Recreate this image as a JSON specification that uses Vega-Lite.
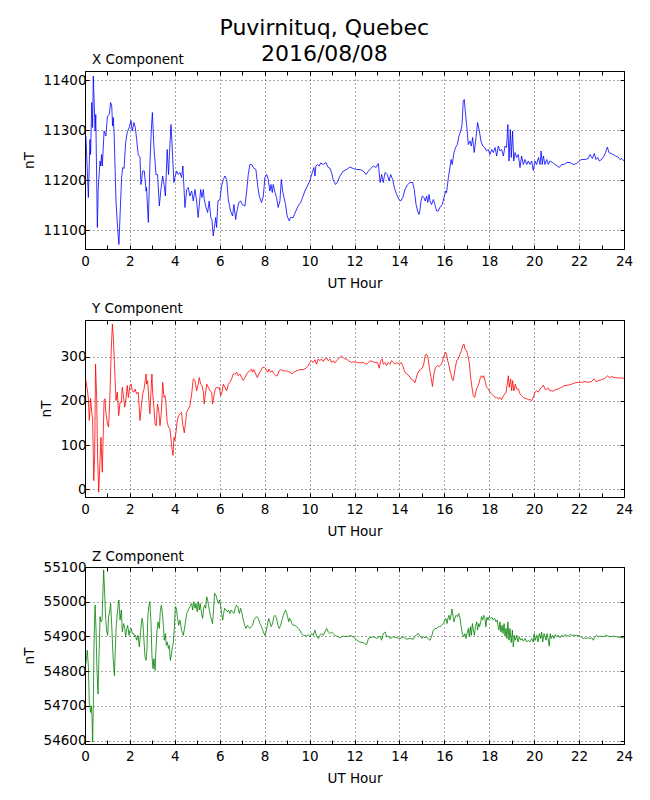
{
"$schema": "https://vega.github.io/schema/vega-lite/v6.json",
"padding": {"left": 21, "top": 16, "right": 10, "bottom": 5},
"spacing": 10,
"title": {"text": ["Puvirnituq, Quebec", "2016/08/08"], "fontSize": 22, "lineHeight": 26, "font": "DejaVu Sans", "fontWeight": "normal", "color": "black", "anchor": "middle", "offset": -13, "dx": -3},
"config": {
  "font": "DejaVu Sans",
  "view": {"stroke": "black", "strokeWidth": 1},
  "axis": {"domain": false, "labelFont": "DejaVu Sans", "labelFontSize": 13.5, "labelColor": "black", "titleFont": "DejaVu Sans", "titleFontSize": 13.5, "titleFontWeight": "normal", "titleColor": "black", "tickColor": "black", "tickSize": -4, "tickWidth": 1, "gridColor": "black", "gridDash": [1, 3], "gridWidth": 0.7, "labelPadding": 3, "labelFlush": false, "labelOverlap": false}
},
"datasets": {
"X": [{"h":0.04,"v":11288},{"h":0.15,"v":11165},{"h":0.22,"v":11281},{"h":0.25,"v":11251},{"h":0.30,"v":11355},{"h":0.34,"v":11305},{"h":0.37,"v":11408},{"h":0.45,"v":11298},{"h":0.48,"v":11331},{"h":0.55,"v":11105},{"h":0.59,"v":11185},{"h":0.67,"v":11238},{"h":0.70,"v":11228},{"h":0.74,"v":11251},{"h":0.77,"v":11228},{"h":0.85,"v":11298},{"h":0.93,"v":11288},{"h":1.00,"v":11328},{"h":1.08,"v":11331},{"h":1.14,"v":11355},{"h":1.19,"v":11348},{"h":1.23,"v":11308},{"h":1.26,"v":11325},{"h":1.30,"v":11288},{"h":1.38,"v":11158},{"h":1.45,"v":11105},{"h":1.51,"v":11071},{"h":1.56,"v":11128},{"h":1.63,"v":11205},{"h":1.68,"v":11225},{"h":1.74,"v":11223},{"h":1.81,"v":11275},{"h":1.88,"v":11295},{"h":1.97,"v":11305},{"h":2.05,"v":11319},{"h":2.10,"v":11298},{"h":2.18,"v":11315},{"h":2.24,"v":11305},{"h":2.30,"v":11281},{"h":2.37,"v":11251},{"h":2.45,"v":11245},{"h":2.49,"v":11191},{"h":2.57,"v":11218},{"h":2.64,"v":11218},{"h":2.72,"v":11178},{"h":2.74,"v":11185},{"h":2.82,"v":11115},{"h":2.89,"v":11231},{"h":2.95,"v":11298},{"h":3.00,"v":11335},{"h":3.07,"v":11265},{"h":3.16,"v":11211},{"h":3.23,"v":11211},{"h":3.31,"v":11148},{"h":3.38,"v":11181},{"h":3.46,"v":11208},{"h":3.52,"v":11191},{"h":3.58,"v":11168},{"h":3.66,"v":11261},{"h":3.72,"v":11211},{"h":3.78,"v":11271},{"h":3.83,"v":11311},{"h":3.89,"v":11258},{"h":3.96,"v":11195},{"h":4.00,"v":11205},{"h":4.08,"v":11218},{"h":4.15,"v":11211},{"h":4.23,"v":11215},{"h":4.30,"v":11205},{"h":4.36,"v":11228},{"h":4.45,"v":11145},{"h":4.53,"v":11181},{"h":4.60,"v":11185},{"h":4.67,"v":11168},{"h":4.75,"v":11178},{"h":4.82,"v":11158},{"h":4.90,"v":11181},{"h":4.97,"v":11158},{"h":5.04,"v":11125},{"h":5.15,"v":11181},{"h":5.21,"v":11165},{"h":5.27,"v":11181},{"h":5.31,"v":11161},{"h":5.39,"v":11145},{"h":5.46,"v":11135},{"h":5.53,"v":11158},{"h":5.60,"v":11125},{"h":5.65,"v":11121},{"h":5.71,"v":11088},{"h":5.76,"v":11105},{"h":5.82,"v":11125},{"h":5.86,"v":11105},{"h":5.92,"v":11158},{"h":6.01,"v":11161},{"h":6.08,"v":11188},{"h":6.16,"v":11201},{"h":6.23,"v":11208},{"h":6.31,"v":11201},{"h":6.38,"v":11161},{"h":6.48,"v":11138},{"h":6.57,"v":11128},{"h":6.63,"v":11151},{"h":6.71,"v":11121},{"h":6.75,"v":11135},{"h":6.85,"v":11155},{"h":6.93,"v":11158},{"h":7.00,"v":11151},{"h":7.12,"v":11148},{"h":7.20,"v":11178},{"h":7.27,"v":11211},{"h":7.34,"v":11231},{"h":7.42,"v":11231},{"h":7.49,"v":11225},{"h":7.61,"v":11221},{"h":7.69,"v":11188},{"h":7.76,"v":11168},{"h":7.86,"v":11155},{"h":7.94,"v":11168},{"h":8.01,"v":11205},{"h":8.09,"v":11211},{"h":8.16,"v":11201},{"h":8.23,"v":11178},{"h":8.28,"v":11191},{"h":8.34,"v":11175},{"h":8.38,"v":11191},{"h":8.46,"v":11175},{"h":8.53,"v":11165},{"h":8.60,"v":11145},{"h":8.68,"v":11158},{"h":8.74,"v":11201},{"h":8.80,"v":11178},{"h":8.86,"v":11165},{"h":8.93,"v":11151},{"h":9.00,"v":11128},{"h":9.10,"v":11118},{"h":9.15,"v":11125},{"h":9.27,"v":11125},{"h":9.39,"v":11138},{"h":9.49,"v":11148},{"h":9.60,"v":11155},{"h":9.69,"v":11165},{"h":9.79,"v":11178},{"h":9.90,"v":11188},{"h":10.01,"v":11198},{"h":10.12,"v":11215},{"h":10.19,"v":11225},{"h":10.24,"v":11208},{"h":10.28,"v":11228},{"h":10.34,"v":11231},{"h":10.43,"v":11228},{"h":10.49,"v":11234},{"h":10.61,"v":11231},{"h":10.73,"v":11235},{"h":10.83,"v":11225},{"h":10.90,"v":11224},{"h":10.98,"v":11215},{"h":11.05,"v":11201},{"h":11.16,"v":11191},{"h":11.23,"v":11195},{"h":11.35,"v":11208},{"h":11.50,"v":11218},{"h":11.65,"v":11221},{"h":11.80,"v":11226},{"h":11.94,"v":11223},{"h":12.10,"v":11221},{"h":12.24,"v":11221},{"h":12.39,"v":11218},{"h":12.51,"v":11211},{"h":12.62,"v":11218},{"h":12.72,"v":11223},{"h":12.84,"v":11228},{"h":12.96,"v":11225},{"h":13.06,"v":11233},{"h":13.14,"v":11195},{"h":13.21,"v":11211},{"h":13.28,"v":11195},{"h":13.36,"v":11215},{"h":13.46,"v":11211},{"h":13.54,"v":11198},{"h":13.61,"v":11211},{"h":13.70,"v":11201},{"h":13.77,"v":11185},{"h":13.88,"v":11171},{"h":13.98,"v":11161},{"h":14.06,"v":11158},{"h":14.15,"v":11165},{"h":14.25,"v":11181},{"h":14.35,"v":11190},{"h":14.47,"v":11195},{"h":14.59,"v":11195},{"h":14.66,"v":11181},{"h":14.74,"v":11151},{"h":14.81,"v":11138},{"h":14.87,"v":11131},{"h":14.91,"v":11138},{"h":14.96,"v":11158},{"h":15.02,"v":11168},{"h":15.09,"v":11165},{"h":15.15,"v":11158},{"h":15.21,"v":11168},{"h":15.26,"v":11155},{"h":15.32,"v":11171},{"h":15.36,"v":11158},{"h":15.43,"v":11151},{"h":15.51,"v":11161},{"h":15.58,"v":11151},{"h":15.66,"v":11138},{"h":15.73,"v":11138},{"h":15.80,"v":11145},{"h":15.91,"v":11151},{"h":16.00,"v":11168},{"h":16.06,"v":11178},{"h":16.10,"v":11175},{"h":16.18,"v":11205},{"h":16.25,"v":11225},{"h":16.30,"v":11241},{"h":16.35,"v":11231},{"h":16.43,"v":11255},{"h":16.50,"v":11265},{"h":16.58,"v":11271},{"h":16.65,"v":11288},{"h":16.73,"v":11298},{"h":16.79,"v":11311},{"h":16.84,"v":11358},{"h":16.89,"v":11361},{"h":16.93,"v":11338},{"h":16.99,"v":11311},{"h":17.07,"v":11271},{"h":17.14,"v":11278},{"h":17.20,"v":11268},{"h":17.26,"v":11285},{"h":17.33,"v":11255},{"h":17.41,"v":11285},{"h":17.48,"v":11315},{"h":17.56,"v":11298},{"h":17.63,"v":11278},{"h":17.71,"v":11268},{"h":17.79,"v":11265},{"h":17.88,"v":11258},{"h":17.96,"v":11261},{"h":18.03,"v":11251},{"h":18.11,"v":11261},{"h":18.18,"v":11255},{"h":18.26,"v":11265},{"h":18.33,"v":11248},{"h":18.40,"v":11268},{"h":18.48,"v":11258},{"h":18.55,"v":11261},{"h":18.63,"v":11248},{"h":18.70,"v":11268},{"h":18.77,"v":11265},{"h":18.83,"v":11311},{"h":18.88,"v":11238},{"h":18.94,"v":11301},{"h":18.98,"v":11245},{"h":19.04,"v":11298},{"h":19.09,"v":11238},{"h":19.15,"v":11255},{"h":19.22,"v":11245},{"h":19.29,"v":11251},{"h":19.37,"v":11225},{"h":19.44,"v":11248},{"h":19.52,"v":11231},{"h":19.59,"v":11241},{"h":19.67,"v":11231},{"h":19.74,"v":11238},{"h":19.81,"v":11231},{"h":19.89,"v":11238},{"h":19.96,"v":11219},{"h":20.04,"v":11238},{"h":20.11,"v":11231},{"h":20.19,"v":11245},{"h":20.26,"v":11231},{"h":20.31,"v":11258},{"h":20.36,"v":11231},{"h":20.41,"v":11248},{"h":20.48,"v":11231},{"h":20.56,"v":11241},{"h":20.63,"v":11231},{"h":20.70,"v":11238},{"h":20.82,"v":11235},{"h":20.93,"v":11231},{"h":21.03,"v":11228},{"h":21.12,"v":11225},{"h":21.22,"v":11231},{"h":21.33,"v":11231},{"h":21.45,"v":11235},{"h":21.60,"v":11235},{"h":21.74,"v":11231},{"h":21.89,"v":11233},{"h":22.01,"v":11238},{"h":22.11,"v":11241},{"h":22.26,"v":11241},{"h":22.41,"v":11243},{"h":22.49,"v":11251},{"h":22.59,"v":11243},{"h":22.68,"v":11253},{"h":22.75,"v":11241},{"h":22.83,"v":11245},{"h":22.90,"v":11238},{"h":23.00,"v":11241},{"h":23.11,"v":11248},{"h":23.18,"v":11255},{"h":23.26,"v":11266},{"h":23.33,"v":11255},{"h":23.42,"v":11253},{"h":23.52,"v":11251},{"h":23.63,"v":11248},{"h":23.75,"v":11245},{"h":23.82,"v":11241},{"h":23.90,"v":11243},{"h":24.0,"v":11238}],
"Y": [{"h":0.04,"v":246},{"h":0.10,"v":227},{"h":0.15,"v":205},{"h":0.19,"v":156},{"h":0.25,"v":206},{"h":0.30,"v":174},{"h":0.34,"v":159},{"h":0.39,"v":20},{"h":0.43,"v":77},{"h":0.47,"v":283},{"h":0.52,"v":205},{"h":0.56,"v":77},{"h":0.61,"v":-6},{"h":0.67,"v":65},{"h":0.71,"v":118},{"h":0.77,"v":39},{"h":0.85,"v":201},{"h":0.89,"v":205},{"h":0.93,"v":174},{"h":1.00,"v":148},{"h":1.05,"v":141},{"h":1.11,"v":212},{"h":1.17,"v":317},{"h":1.22,"v":374},{"h":1.26,"v":344},{"h":1.32,"v":272},{"h":1.38,"v":201},{"h":1.44,"v":220},{"h":1.50,"v":167},{"h":1.56,"v":197},{"h":1.62,"v":197},{"h":1.66,"v":231},{"h":1.71,"v":212},{"h":1.77,"v":186},{"h":1.83,"v":208},{"h":1.88,"v":235},{"h":1.93,"v":208},{"h":2.00,"v":235},{"h":2.06,"v":238},{"h":2.10,"v":223},{"h":2.18,"v":220},{"h":2.23,"v":227},{"h":2.30,"v":216},{"h":2.37,"v":220},{"h":2.45,"v":156},{"h":2.52,"v":193},{"h":2.57,"v":216},{"h":2.63,"v":227},{"h":2.67,"v":242},{"h":2.72,"v":261},{"h":2.74,"v":238},{"h":2.79,"v":246},{"h":2.85,"v":197},{"h":2.89,"v":171},{"h":2.94,"v":224},{"h":2.98,"v":261},{"h":3.01,"v":220},{"h":3.07,"v":186},{"h":3.12,"v":148},{"h":3.17,"v":144},{"h":3.23,"v":193},{"h":3.30,"v":171},{"h":3.34,"v":144},{"h":3.40,"v":174},{"h":3.46,"v":242},{"h":3.52,"v":208},{"h":3.56,"v":212},{"h":3.60,"v":197},{"h":3.66,"v":152},{"h":3.72,"v":141},{"h":3.78,"v":137},{"h":3.83,"v":114},{"h":3.87,"v":92},{"h":3.92,"v":77},{"h":3.96,"v":118},{"h":4.00,"v":111},{"h":4.05,"v":129},{"h":4.11,"v":156},{"h":4.17,"v":167},{"h":4.23,"v":171},{"h":4.30,"v":174},{"h":4.35,"v":148},{"h":4.42,"v":128},{"h":4.48,"v":152},{"h":4.52,"v":174},{"h":4.60,"v":182},{"h":4.67,"v":189},{"h":4.75,"v":216},{"h":4.82,"v":250},{"h":4.90,"v":246},{"h":4.97,"v":223},{"h":5.04,"v":238},{"h":5.09,"v":253},{"h":5.15,"v":238},{"h":5.21,"v":235},{"h":5.27,"v":220},{"h":5.31,"v":193},{"h":5.36,"v":216},{"h":5.42,"v":238},{"h":5.49,"v":231},{"h":5.56,"v":223},{"h":5.64,"v":220},{"h":5.68,"v":193},{"h":5.74,"v":212},{"h":5.80,"v":227},{"h":5.86,"v":231},{"h":5.93,"v":229},{"h":5.98,"v":231},{"h":6.04,"v":212},{"h":6.10,"v":220},{"h":6.16,"v":238},{"h":6.23,"v":231},{"h":6.31,"v":223},{"h":6.38,"v":238},{"h":6.45,"v":242},{"h":6.53,"v":250},{"h":6.60,"v":261},{"h":6.68,"v":261},{"h":6.75,"v":265},{"h":6.82,"v":257},{"h":6.90,"v":261},{"h":6.97,"v":253},{"h":7.05,"v":246},{"h":7.12,"v":253},{"h":7.20,"v":261},{"h":7.27,"v":266},{"h":7.34,"v":268},{"h":7.42,"v":272},{"h":7.46,"v":265},{"h":7.52,"v":271},{"h":7.60,"v":261},{"h":7.67,"v":253},{"h":7.74,"v":261},{"h":7.82,"v":268},{"h":7.91,"v":276},{"h":7.98,"v":276},{"h":8.06,"v":272},{"h":8.13,"v":265},{"h":8.19,"v":272},{"h":8.26,"v":265},{"h":8.34,"v":268},{"h":8.41,"v":262},{"h":8.50,"v":257},{"h":8.57,"v":257},{"h":8.64,"v":268},{"h":8.71,"v":271},{"h":8.83,"v":268},{"h":8.98,"v":268},{"h":9.12,"v":265},{"h":9.23,"v":261},{"h":9.32,"v":266},{"h":9.42,"v":268},{"h":9.57,"v":271},{"h":9.72,"v":271},{"h":9.84,"v":274},{"h":9.94,"v":280},{"h":10.01,"v":287},{"h":10.09,"v":291},{"h":10.16,"v":287},{"h":10.24,"v":293},{"h":10.31,"v":283},{"h":10.39,"v":295},{"h":10.46,"v":291},{"h":10.53,"v":295},{"h":10.61,"v":289},{"h":10.68,"v":295},{"h":10.76,"v":297},{"h":10.83,"v":291},{"h":10.91,"v":295},{"h":10.98,"v":287},{"h":11.05,"v":291},{"h":11.13,"v":286},{"h":11.20,"v":291},{"h":11.28,"v":295},{"h":11.35,"v":298},{"h":11.42,"v":302},{"h":11.50,"v":298},{"h":11.57,"v":295},{"h":11.65,"v":295},{"h":11.72,"v":291},{"h":11.80,"v":289},{"h":11.87,"v":287},{"h":11.94,"v":289},{"h":12.10,"v":287},{"h":12.24,"v":286},{"h":12.39,"v":287},{"h":12.54,"v":283},{"h":12.62,"v":287},{"h":12.69,"v":291},{"h":12.81,"v":289},{"h":12.91,"v":287},{"h":13.02,"v":287},{"h":13.10,"v":274},{"h":13.16,"v":291},{"h":13.24,"v":295},{"h":13.28,"v":283},{"h":13.36,"v":287},{"h":13.43,"v":280},{"h":13.50,"v":287},{"h":13.58,"v":283},{"h":13.65,"v":291},{"h":13.73,"v":287},{"h":13.80,"v":283},{"h":13.88,"v":287},{"h":14.00,"v":283},{"h":14.07,"v":287},{"h":14.15,"v":280},{"h":14.22,"v":268},{"h":14.32,"v":261},{"h":14.43,"v":257},{"h":14.51,"v":250},{"h":14.62,"v":246},{"h":14.69,"v":241},{"h":14.74,"v":250},{"h":14.80,"v":261},{"h":14.87,"v":268},{"h":14.95,"v":271},{"h":15.02,"v":274},{"h":15.10,"v":287},{"h":15.15,"v":304},{"h":15.21,"v":306},{"h":15.27,"v":298},{"h":15.33,"v":276},{"h":15.41,"v":253},{"h":15.47,"v":233},{"h":15.51,"v":250},{"h":15.55,"v":265},{"h":15.61,"v":276},{"h":15.69,"v":280},{"h":15.76,"v":278},{"h":15.84,"v":281},{"h":15.91,"v":287},{"h":15.98,"v":302},{"h":16.06,"v":310},{"h":16.10,"v":306},{"h":16.15,"v":291},{"h":16.21,"v":280},{"h":16.25,"v":268},{"h":16.30,"v":261},{"h":16.34,"v":250},{"h":16.39,"v":246},{"h":16.43,"v":257},{"h":16.49,"v":276},{"h":16.55,"v":291},{"h":16.62,"v":295},{"h":16.70,"v":306},{"h":16.76,"v":314},{"h":16.82,"v":325},{"h":16.87,"v":329},{"h":16.93,"v":316},{"h":16.99,"v":314},{"h":17.05,"v":302},{"h":17.11,"v":287},{"h":17.17,"v":253},{"h":17.23,"v":231},{"h":17.29,"v":212},{"h":17.35,"v":208},{"h":17.41,"v":223},{"h":17.47,"v":231},{"h":17.53,"v":238},{"h":17.59,"v":250},{"h":17.65,"v":257},{"h":17.71,"v":253},{"h":17.75,"v":257},{"h":17.81,"v":246},{"h":17.88,"v":231},{"h":17.96,"v":227},{"h":18.03,"v":220},{"h":18.11,"v":216},{"h":18.18,"v":212},{"h":18.26,"v":208},{"h":18.33,"v":208},{"h":18.40,"v":205},{"h":18.48,"v":208},{"h":18.55,"v":203},{"h":18.63,"v":212},{"h":18.70,"v":216},{"h":18.75,"v":220},{"h":18.81,"v":242},{"h":18.85,"v":257},{"h":18.89,"v":231},{"h":18.95,"v":250},{"h":19.00,"v":223},{"h":19.04,"v":246},{"h":19.10,"v":223},{"h":19.16,"v":238},{"h":19.22,"v":227},{"h":19.30,"v":227},{"h":19.37,"v":216},{"h":19.44,"v":212},{"h":19.52,"v":208},{"h":19.59,"v":206},{"h":19.67,"v":205},{"h":19.74,"v":203},{"h":19.81,"v":203},{"h":19.89,"v":201},{"h":19.96,"v":208},{"h":20.04,"v":220},{"h":20.11,"v":223},{"h":20.19,"v":220},{"h":20.26,"v":227},{"h":20.33,"v":231},{"h":20.41,"v":236},{"h":20.48,"v":227},{"h":20.56,"v":226},{"h":20.63,"v":229},{"h":20.70,"v":223},{"h":20.78,"v":223},{"h":20.85,"v":222},{"h":20.97,"v":226},{"h":21.07,"v":227},{"h":21.22,"v":231},{"h":21.37,"v":235},{"h":21.52,"v":236},{"h":21.67,"v":238},{"h":21.82,"v":241},{"h":21.97,"v":242},{"h":22.11,"v":242},{"h":22.26,"v":244},{"h":22.41,"v":242},{"h":22.56,"v":244},{"h":22.66,"v":250},{"h":22.75,"v":244},{"h":22.86,"v":246},{"h":23.00,"v":248},{"h":23.15,"v":251},{"h":23.26,"v":257},{"h":23.35,"v":253},{"h":23.45,"v":255},{"h":23.60,"v":253},{"h":23.75,"v":252},{"h":23.89,"v":252},{"h":24.00,"v":251}],
"Z": [{"h":0.04,"v":54821},{"h":0.10,"v":54860},{"h":0.15,"v":54816},{"h":0.19,"v":54710},{"h":0.25,"v":54681},{"h":0.28,"v":54700},{"h":0.31,"v":54671},{"h":0.34,"v":54596},{"h":0.37,"v":54700},{"h":0.40,"v":54874},{"h":0.45,"v":54990},{"h":0.49,"v":54923},{"h":0.53,"v":54807},{"h":0.58,"v":54734},{"h":0.62,"v":54836},{"h":0.67,"v":54957},{"h":0.71,"v":54942},{"h":0.76,"v":54947},{"h":0.79,"v":55010},{"h":0.83,"v":55092},{"h":0.88,"v":55019},{"h":0.92,"v":54952},{"h":0.96,"v":54918},{"h":1.01,"v":54903},{"h":1.05,"v":54957},{"h":1.10,"v":54971},{"h":1.14,"v":54995},{"h":1.19,"v":54932},{"h":1.25,"v":54841},{"h":1.31,"v":54787},{"h":1.35,"v":54865},{"h":1.39,"v":54928},{"h":1.45,"v":54976},{"h":1.51,"v":55005},{"h":1.56,"v":54947},{"h":1.62,"v":54976},{"h":1.66,"v":54913},{"h":1.72,"v":54937},{"h":1.77,"v":54923},{"h":1.81,"v":54899},{"h":1.85,"v":54918},{"h":1.90,"v":54932},{"h":1.96,"v":54903},{"h":2.00,"v":54918},{"h":2.06,"v":54923},{"h":2.11,"v":54908},{"h":2.17,"v":54908},{"h":2.21,"v":54899},{"h":2.25,"v":54903},{"h":2.30,"v":54889},{"h":2.36,"v":54903},{"h":2.42,"v":54870},{"h":2.48,"v":54918},{"h":2.54,"v":54952},{"h":2.58,"v":54937},{"h":2.63,"v":54884},{"h":2.67,"v":54841},{"h":2.72,"v":54831},{"h":2.76,"v":54865},{"h":2.80,"v":54961},{"h":2.85,"v":54990},{"h":2.89,"v":55000},{"h":2.94,"v":54937},{"h":2.98,"v":54845},{"h":3.03,"v":54807},{"h":3.07,"v":54836},{"h":3.12,"v":54802},{"h":3.16,"v":54860},{"h":3.20,"v":54913},{"h":3.25,"v":54942},{"h":3.31,"v":54923},{"h":3.35,"v":54971},{"h":3.40,"v":54990},{"h":3.44,"v":54971},{"h":3.49,"v":54932},{"h":3.53,"v":54889},{"h":3.58,"v":54908},{"h":3.62,"v":54874},{"h":3.67,"v":54884},{"h":3.71,"v":54865},{"h":3.75,"v":54874},{"h":3.80,"v":54831},{"h":3.84,"v":54845},{"h":3.89,"v":54870},{"h":3.93,"v":54879},{"h":3.98,"v":54928},{"h":4.02,"v":54986},{"h":4.07,"v":54981},{"h":4.11,"v":54957},{"h":4.17,"v":54932},{"h":4.23,"v":54947},{"h":4.30,"v":54918},{"h":4.38,"v":54903},{"h":4.45,"v":54932},{"h":4.53,"v":54966},{"h":4.60,"v":54976},{"h":4.67,"v":54986},{"h":4.75,"v":54995},{"h":4.79,"v":54976},{"h":4.84,"v":55000},{"h":4.90,"v":54981},{"h":4.94,"v":54995},{"h":5.00,"v":54971},{"h":5.04,"v":55000},{"h":5.09,"v":54976},{"h":5.13,"v":54995},{"h":5.19,"v":54966},{"h":5.24,"v":54952},{"h":5.28,"v":54981},{"h":5.33,"v":54990},{"h":5.37,"v":54981},{"h":5.42,"v":55014},{"h":5.46,"v":55005},{"h":5.51,"v":54986},{"h":5.55,"v":54971},{"h":5.59,"v":54957},{"h":5.64,"v":54947},{"h":5.68,"v":54937},{"h":5.73,"v":54981},{"h":5.77,"v":55024},{"h":5.83,"v":55019},{"h":5.89,"v":55005},{"h":5.95,"v":54995},{"h":5.99,"v":55005},{"h":6.04,"v":54990},{"h":6.08,"v":54966},{"h":6.13,"v":54947},{"h":6.17,"v":54966},{"h":6.22,"v":54981},{"h":6.28,"v":54976},{"h":6.34,"v":54971},{"h":6.39,"v":54976},{"h":6.45,"v":54966},{"h":6.51,"v":54976},{"h":6.57,"v":54971},{"h":6.63,"v":54966},{"h":6.69,"v":54981},{"h":6.75,"v":54990},{"h":6.81,"v":54986},{"h":6.87,"v":54966},{"h":6.93,"v":54981},{"h":6.99,"v":54966},{"h":7.05,"v":54947},{"h":7.11,"v":54932},{"h":7.17,"v":54923},{"h":7.23,"v":54932},{"h":7.28,"v":54928},{"h":7.34,"v":54923},{"h":7.40,"v":54928},{"h":7.46,"v":54932},{"h":7.52,"v":54947},{"h":7.58,"v":54952},{"h":7.64,"v":54957},{"h":7.72,"v":54952},{"h":7.79,"v":54937},{"h":7.86,"v":54928},{"h":7.94,"v":54913},{"h":8.01,"v":54903},{"h":8.06,"v":54913},{"h":8.12,"v":54932},{"h":8.18,"v":54952},{"h":8.23,"v":54942},{"h":8.29,"v":54928},{"h":8.35,"v":54937},{"h":8.41,"v":54957},{"h":8.47,"v":54961},{"h":8.53,"v":54952},{"h":8.59,"v":54932},{"h":8.65,"v":54923},{"h":8.71,"v":54932},{"h":8.77,"v":54947},{"h":8.83,"v":54961},{"h":8.89,"v":54971},{"h":8.93,"v":54976},{"h":8.98,"v":54966},{"h":9.02,"v":54957},{"h":9.07,"v":54942},{"h":9.11,"v":54952},{"h":9.16,"v":54947},{"h":9.21,"v":54937},{"h":9.27,"v":54932},{"h":9.34,"v":54932},{"h":9.42,"v":54928},{"h":9.49,"v":54923},{"h":9.57,"v":54918},{"h":9.64,"v":54908},{"h":9.72,"v":54903},{"h":9.79,"v":54903},{"h":9.87,"v":54901},{"h":9.94,"v":54905},{"h":10.01,"v":54899},{"h":10.09,"v":54908},{"h":10.16,"v":54903},{"h":10.24,"v":54918},{"h":10.31,"v":54901},{"h":10.39,"v":54894},{"h":10.46,"v":54903},{"h":10.53,"v":54908},{"h":10.61,"v":54903},{"h":10.68,"v":54913},{"h":10.76,"v":54923},{"h":10.83,"v":54913},{"h":10.91,"v":54908},{"h":10.98,"v":54913},{"h":11.05,"v":54908},{"h":11.13,"v":54903},{"h":11.20,"v":54901},{"h":11.28,"v":54899},{"h":11.35,"v":54896},{"h":11.42,"v":54899},{"h":11.50,"v":54901},{"h":11.57,"v":54899},{"h":11.65,"v":54901},{"h":11.72,"v":54899},{"h":11.80,"v":54903},{"h":11.87,"v":54901},{"h":11.95,"v":54899},{"h":12.10,"v":54889},{"h":12.24,"v":54884},{"h":12.39,"v":54882},{"h":12.54,"v":54876},{"h":12.62,"v":54894},{"h":12.69,"v":54896},{"h":12.84,"v":54899},{"h":12.99,"v":54894},{"h":13.14,"v":54901},{"h":13.21,"v":54889},{"h":13.28,"v":54908},{"h":13.36,"v":54913},{"h":13.43,"v":54899},{"h":13.51,"v":54901},{"h":13.58,"v":54894},{"h":13.73,"v":54899},{"h":13.88,"v":54896},{"h":14.03,"v":54894},{"h":14.17,"v":54899},{"h":14.32,"v":54892},{"h":14.47,"v":54894},{"h":14.62,"v":54892},{"h":14.69,"v":54901},{"h":14.77,"v":54905},{"h":14.84,"v":54908},{"h":14.92,"v":54901},{"h":14.99,"v":54894},{"h":15.06,"v":54899},{"h":15.14,"v":54896},{"h":15.21,"v":54899},{"h":15.29,"v":54892},{"h":15.36,"v":54889},{"h":15.43,"v":54899},{"h":15.51,"v":54918},{"h":15.58,"v":54923},{"h":15.66,"v":54923},{"h":15.73,"v":54928},{"h":15.80,"v":54928},{"h":15.88,"v":54932},{"h":15.95,"v":54937},{"h":16.03,"v":54947},{"h":16.07,"v":54952},{"h":16.12,"v":54937},{"h":16.16,"v":54952},{"h":16.21,"v":54961},{"h":16.25,"v":54947},{"h":16.30,"v":54961},{"h":16.34,"v":54979},{"h":16.39,"v":54957},{"h":16.43,"v":54942},{"h":16.47,"v":54952},{"h":16.52,"v":54961},{"h":16.58,"v":54957},{"h":16.64,"v":54966},{"h":16.70,"v":54952},{"h":16.74,"v":54932},{"h":16.80,"v":54908},{"h":16.86,"v":54899},{"h":16.92,"v":54908},{"h":16.96,"v":54894},{"h":17.01,"v":54908},{"h":17.07,"v":54923},{"h":17.11,"v":54899},{"h":17.16,"v":54928},{"h":17.20,"v":54903},{"h":17.25,"v":54937},{"h":17.29,"v":54918},{"h":17.34,"v":54903},{"h":17.38,"v":54928},{"h":17.44,"v":54942},{"h":17.48,"v":54918},{"h":17.53,"v":54937},{"h":17.57,"v":54928},{"h":17.62,"v":54942},{"h":17.66,"v":54957},{"h":17.71,"v":54947},{"h":17.75,"v":54961},{"h":17.81,"v":54952},{"h":17.85,"v":54928},{"h":17.90,"v":54955},{"h":17.94,"v":54947},{"h":18.00,"v":54957},{"h":18.06,"v":54952},{"h":18.12,"v":54955},{"h":18.18,"v":54947},{"h":18.24,"v":54952},{"h":18.30,"v":54942},{"h":18.35,"v":54947},{"h":18.39,"v":54932},{"h":18.43,"v":54918},{"h":18.48,"v":54942},{"h":18.52,"v":54913},{"h":18.57,"v":54932},{"h":18.61,"v":54908},{"h":18.66,"v":54937},{"h":18.70,"v":54901},{"h":18.75,"v":54923},{"h":18.79,"v":54894},{"h":18.83,"v":54942},{"h":18.88,"v":54889},{"h":18.92,"v":54923},{"h":18.98,"v":54882},{"h":19.03,"v":54918},{"h":19.07,"v":54870},{"h":19.12,"v":54903},{"h":19.16,"v":54889},{"h":19.22,"v":54903},{"h":19.28,"v":54884},{"h":19.34,"v":54899},{"h":19.40,"v":54889},{"h":19.46,"v":54894},{"h":19.52,"v":54886},{"h":19.59,"v":54894},{"h":19.67,"v":54884},{"h":19.74,"v":54889},{"h":19.81,"v":54884},{"h":19.89,"v":54894},{"h":19.96,"v":54884},{"h":20.00,"v":54908},{"h":20.05,"v":54889},{"h":20.11,"v":54903},{"h":20.17,"v":54884},{"h":20.23,"v":54908},{"h":20.29,"v":54894},{"h":20.33,"v":54913},{"h":20.38,"v":54884},{"h":20.44,"v":54908},{"h":20.48,"v":54899},{"h":20.53,"v":54889},{"h":20.57,"v":54908},{"h":20.62,"v":54894},{"h":20.67,"v":54872},{"h":20.72,"v":54908},{"h":20.76,"v":54894},{"h":20.82,"v":54903},{"h":20.88,"v":54894},{"h":20.94,"v":54905},{"h":21.00,"v":54899},{"h":21.07,"v":54903},{"h":21.15,"v":54896},{"h":21.22,"v":54903},{"h":21.30,"v":54899},{"h":21.37,"v":54905},{"h":21.45,"v":54903},{"h":21.52,"v":54901},{"h":21.60,"v":54905},{"h":21.74,"v":54903},{"h":21.89,"v":54903},{"h":22.04,"v":54901},{"h":22.11,"v":54896},{"h":22.19,"v":54894},{"h":22.26,"v":54896},{"h":22.34,"v":54894},{"h":22.41,"v":54896},{"h":22.49,"v":54894},{"h":22.56,"v":54896},{"h":22.63,"v":54889},{"h":22.71,"v":54899},{"h":22.78,"v":54903},{"h":22.86,"v":54899},{"h":22.93,"v":54901},{"h":23.08,"v":54899},{"h":23.22,"v":54903},{"h":23.37,"v":54899},{"h":23.52,"v":54901},{"h":23.66,"v":54899},{"h":23.82,"v":54897},{"h":23.97,"v":54896},{"h":24.00,"v":54896}]
},
"vconcat": [
{
 "width": 539, "height": 178,
 "title": {"text": "X Component", "anchor": "start", "frame": "group", "dx": 7, "fontSize": 13.5, "fontWeight": "normal", "font": "DejaVu Sans", "color": "black", "offset": -7, "baseline": "alphabetic"},
 "data": {"name": "X"},
 "layer": [
  {"mark": {"type": "line", "color": "#0000ff", "strokeWidth": 0.8, "clip": true},
   "encoding": {
    "x": {"field": "h", "type": "quantitative", "scale": {"domain": [0, 24], "nice": false}, "axis": {"orient": "bottom", "title": "UT Hour", "titlePadding": 9, "labelPadding": 9, "labelFont": "DejaVu Sans", "labelFontSize": 13.5, "values": [0,1,2,3,4,5,6,7,8,9,10,11,12,13,14,15,16,17,18,19,20,21,22,23,24], "labelExpr": "datum.value % 2 == 0 ? datum.label : ''", "gridOpacity": {"condition": {"test": "datum.value % 2 == 0", "value": 1}, "value": 0}}},
    "y": {"field": "v", "type": "quantitative", "scale": {"domain": [11062, 11418], "nice": false, "zero": false}, "axis": {"orient": "left", "title": "nT", "titlePadding": 7, "labelFont": "DejaVu Sans", "labelFontSize": 13.5, "format": "d", "values": [11100, 11200, 11300, 11400]}}}},
  {"mark": {"type": "line", "opacity": 0},
   "encoding": {
    "x": {"field": "h", "type": "quantitative", "axis": {"orient": "top", "title": null, "labels": false, "grid": false, "minExtent": 0, "maxExtent": 0, "values": [0,1,2,3,4,5,6,7,8,9,10,11,12,13,14,15,16,17,18,19,20,21,22,23,24]}},
    "y": {"field": "v", "type": "quantitative", "axis": {"orient": "right", "title": null, "labels": false, "grid": false, "minExtent": 0, "maxExtent": 0, "values": [11100, 11200, 11300, 11400]}}}}
 ],
 "resolve": {"axis": {"x": "independent", "y": "independent"}}
},
{
 "width": 539, "height": 177,
 "title": {"text": "Y Component", "anchor": "start", "frame": "group", "dx": 7, "fontSize": 13.5, "fontWeight": "normal", "font": "DejaVu Sans", "color": "black", "offset": -7, "baseline": "alphabetic"},
 "data": {"name": "Y"},
 "layer": [
  {"mark": {"type": "line", "color": "#ff0000", "strokeWidth": 0.8, "clip": true},
   "encoding": {
    "x": {"field": "h", "type": "quantitative", "scale": {"domain": [0, 24], "nice": false}, "axis": {"orient": "bottom", "title": "UT Hour", "titlePadding": 9, "labelPadding": 9, "labelFont": "DejaVu Sans", "labelFontSize": 13.5, "values": [0,1,2,3,4,5,6,7,8,9,10,11,12,13,14,15,16,17,18,19,20,21,22,23,24], "labelExpr": "datum.value % 2 == 0 ? datum.label : ''", "gridOpacity": {"condition": {"test": "datum.value % 2 == 0", "value": 1}, "value": 0}}},
    "y": {"field": "v", "type": "quantitative", "scale": {"domain": [-17, 383], "nice": false, "zero": false}, "axis": {"orient": "left", "title": "nT", "titlePadding": 7, "labelFont": "DejaVu Sans", "labelFontSize": 13.5, "format": "d", "values": [0, 100, 200, 300]}}}},
  {"mark": {"type": "line", "opacity": 0},
   "encoding": {
    "x": {"field": "h", "type": "quantitative", "axis": {"orient": "top", "title": null, "labels": false, "grid": false, "minExtent": 0, "maxExtent": 0, "values": [0,1,2,3,4,5,6,7,8,9,10,11,12,13,14,15,16,17,18,19,20,21,22,23,24]}},
    "y": {"field": "v", "type": "quantitative", "axis": {"orient": "right", "title": null, "labels": false, "grid": false, "minExtent": 0, "maxExtent": 0, "values": [0, 100, 200, 300]}}}}
 ],
 "resolve": {"axis": {"x": "independent", "y": "independent"}}
},
{
 "width": 539, "height": 177,
 "title": {"text": "Z Component", "anchor": "start", "frame": "group", "dx": 7, "fontSize": 13.5, "fontWeight": "normal", "font": "DejaVu Sans", "color": "black", "offset": -14, "baseline": "alphabetic"},
 "data": {"name": "Z"},
 "layer": [
  {"mark": {"type": "line", "color": "#008000", "strokeWidth": 0.8, "clip": true},
   "encoding": {
    "x": {"field": "h", "type": "quantitative", "scale": {"domain": [0, 24], "nice": false}, "axis": {"orient": "bottom", "title": "UT Hour", "titlePadding": 9, "labelPadding": 9, "labelFont": "DejaVu Sans", "labelFontSize": 13.5, "values": [0,1,2,3,4,5,6,7,8,9,10,11,12,13,14,15,16,17,18,19,20,21,22,23,24], "labelExpr": "datum.value % 2 == 0 ? datum.label : ''", "gridOpacity": {"condition": {"test": "datum.value % 2 == 0", "value": 1}, "value": 0}}},
    "y": {"field": "v", "type": "quantitative", "scale": {"domain": [54590, 55100], "nice": false, "zero": false}, "axis": {"orient": "left", "title": "nT", "titlePadding": 7, "labelFont": "DejaVu Sans", "labelFontSize": 13.5, "format": "d", "values": [54600, 54700, 54800, 54900, 55000, 55100]}}}},
  {"mark": {"type": "line", "opacity": 0},
   "encoding": {
    "x": {"field": "h", "type": "quantitative", "axis": {"orient": "top", "title": null, "labels": false, "grid": false, "minExtent": 0, "maxExtent": 0, "values": [0,1,2,3,4,5,6,7,8,9,10,11,12,13,14,15,16,17,18,19,20,21,22,23,24]}},
    "y": {"field": "v", "type": "quantitative", "axis": {"orient": "right", "title": null, "labels": false, "grid": false, "minExtent": 0, "maxExtent": 0, "values": [54600, 54700, 54800, 54900, 55000, 55100]}}}}
 ],
 "resolve": {"axis": {"x": "independent", "y": "independent"}}
}
]
}
